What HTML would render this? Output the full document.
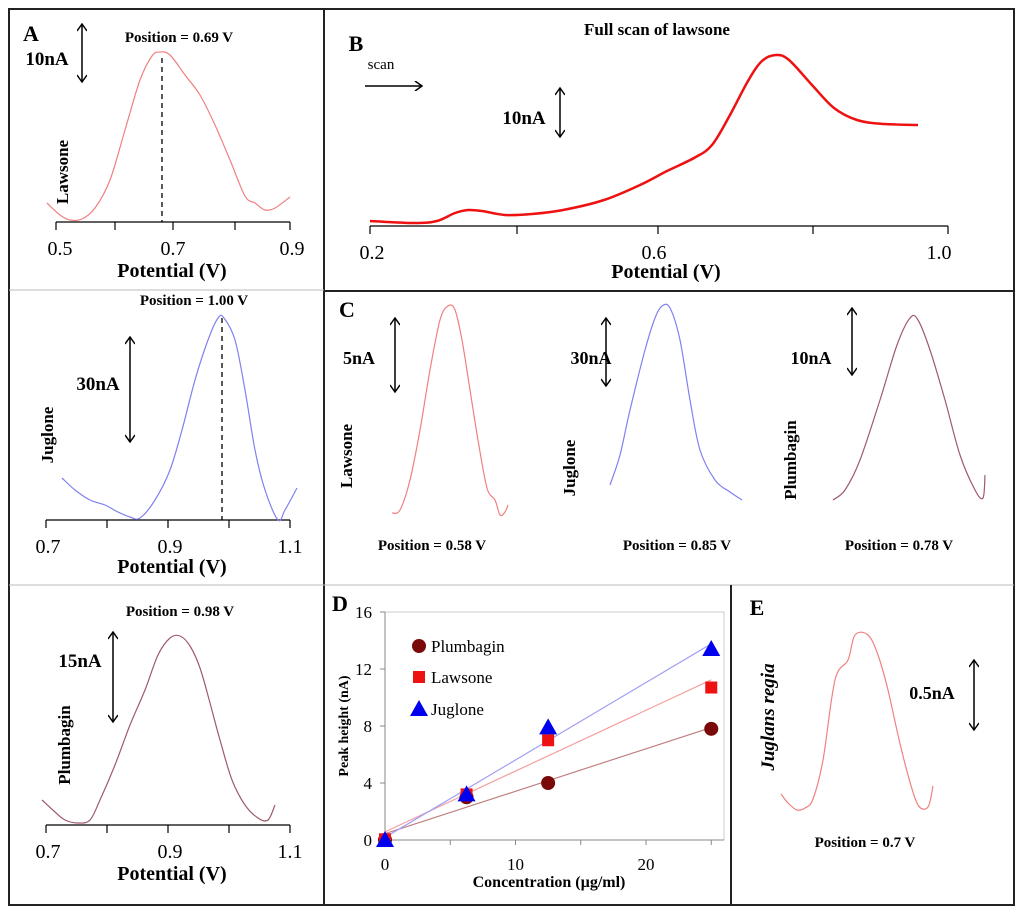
<!DOCTYPE html>
<html><head><meta charset="utf-8"><style>
html,body{margin:0;padding:0;background:#fff}
svg{display:block;font-family:"Liberation Serif",serif}
</style></head><body>
<svg id="fig" width="1024" height="913" viewBox="0 0 1024 913" xmlns="http://www.w3.org/2000/svg">
<defs><marker id="ah" markerWidth="10" markerHeight="10" refX="8" refY="5" orient="auto-start-reverse" markerUnits="userSpaceOnUse"><path d="M1,0 L8,5 L1,10" fill="none" stroke="#000" stroke-width="1.5"/></marker></defs>
<rect x="9" y="9" width="1005" height="896" fill="none" stroke="#222" stroke-width="2"/>
<line x1="324" y1="9" x2="324" y2="905" stroke="#222" stroke-width="2"/>
<line x1="324" y1="291" x2="1014" y2="291" stroke="#222" stroke-width="2"/>
<line x1="9" y1="290" x2="324" y2="290" stroke="#bbb" stroke-width="1"/>
<line x1="9" y1="585" x2="324" y2="585" stroke="#bbb" stroke-width="1"/>
<line x1="324" y1="585" x2="1014" y2="585" stroke="#bbb" stroke-width="1"/>
<line x1="731" y1="585" x2="731" y2="905" stroke="#222" stroke-width="2"/>
<g id="g"></g>
</svg>
<script>
// Panel D data
const conc=[0,6.25,12.5,25];
const plumbagin=[0,3.0,4.0,7.8];
const lawsone=[0.05,3.2,7.0,10.7];
const juglone=[0,3.2,7.9,13.4];
const xTicks=[0,10,20];
const yTicks=[0,4,8,12,16];
// Curve traces (potential-scan shapes, pixel-read)
const curveA=[[47,203],[60,215],[70,220],[82,219],[95,208],[110,180],[125,130],[140,80],[152,56],[160,52],[170,55],[185,75],[200,95],[215,125],[230,160],[245,196],[255,203],[265,210],[275,208],[290,197]];
const curveJ=[[62,478],[75,490],[90,500],[105,505],[118,512],[130,517],[140,518],[155,500],[170,470],[182,430],[195,380],[208,340],[218,318],[224,318],[235,340],[245,390],[255,450],[265,490],[278,520],[285,510],[297,488]];
const curveP=[[42,800],[55,812],[65,820],[78,823],[90,820],[100,800],[115,765],[130,725],[145,690],[158,655],[170,638],[180,636],[190,646],[200,668],[210,703],[220,740],[232,780],[245,805],[258,818],[268,820],[275,805]];
const curveB=[[370,221],[414,223],[437,221],[455,213],[468,210],[482,211],[505,215],[532,214],[563,210],[604,200],[640,185],[667,171],[694,158],[712,145],[730,115],[748,81],[762,61],[776,55],[789,60],[812,85],[834,108],[857,120],[884,124],[918,125]];
const curveCL=[[392,513],[400,510],[410,480],[420,430],[430,370],[440,320],[448,306],[455,310],[462,340],[470,390],[478,440],[487,488],[495,500],[500,515],[505,512],[508,505]];
const curveCJ=[[610,485],[620,455],[630,410],[645,350],[655,318],[662,306],[670,308],[680,340],[690,400],[700,450],[715,480],[730,492],[742,500]];
const curveCP=[[833,500],[845,490],[860,460],[880,400],[897,345],[910,318],[918,320],[930,350],[945,400],[960,455],[975,490],[983,498],[985,475]];
const curveE=[[781,794],[788,803],[797,810],[805,808],[813,799],[823,760],[835,680],[848,660],[855,635],[868,635],[878,655],[888,690],[898,735],[908,775],[918,805],[928,807],[933,786]];

const NS="http://www.w3.org/2000/svg", G=document.getElementById('g');
function mk(t,a,p){const e=document.createElementNS(NS,t);for(const k in a)e.setAttribute(k,a[k]);(p||G).appendChild(e);return e;}
function txt(x,y,s,size,extra){const e=mk('text',Object.assign({x:x,y:y,'font-size':size,'text-anchor':'middle'},extra||{}));e.textContent=s;return e;}
function smooth(p){let d=`M${p[0][0]},${p[0][1]}`;for(let i=0;i<p.length-1;i++){const p0=p[Math.max(i-1,0)],p1=p[i],p2=p[i+1],p3=p[Math.min(i+2,p.length-1)];
const c1=[p1[0]+(p2[0]-p0[0])/6,p1[1]+(p2[1]-p0[1])/6],c2=[p2[0]-(p3[0]-p1[0])/6,p2[1]-(p3[1]-p1[1])/6];
d+=` C${c1[0].toFixed(1)},${c1[1].toFixed(1)} ${c2[0].toFixed(1)},${c2[1].toFixed(1)} ${p2[0]},${p2[1]}`;}return d;}
function poly(pts,col,w,name){const e=mk('path',{d:smooth(pts),fill:'none',stroke:col,'stroke-width':w,'stroke-linejoin':'round'});

return e;}
function varrow(x,y1,y2,name){const e=mk('line',{x1:x,y1:y1,x2:x,y2:y2,stroke:'#000','stroke-width':1.5,'marker-start':'url(#ah)','marker-end':'url(#ah)'});

}
function axis(y,x1,x2,ticks,labels,name){const a=mk('line',{x1:x1,y1:y,x2:x2,y2:y,stroke:'#000','stroke-width':1.2});


ticks.forEach(t=>mk('line',{x1:t,y1:y,x2:t,y2:y+8,stroke:'#000','stroke-width':1.2}));
labels.forEach(l=>{const e=txt(l[0],y+33,l[1],20);

});}
function label(x,y,s,size,extra,name){const e=txt(x,y,s,size,extra);

return e;}
const B={'font-weight':'bold'};

// Panel A
label(31,41,'A',22,B,'panel-a-label');
label(179,42,'Position = 0.69 V',15,B,'panel-a-position');
label(47,65,'10nA',19,B,'panel-a-scale-label');
varrow(82,24,82,'panel-a-scale-arrow');
label(68,172,'Lawsone',17,Object.assign({transform:'rotate(-90 68 172)'},B),'panel-a-ylabel');
axis(222,56,290,[56,115,173,235,290],[[60,'0.5'],[173,'0.7'],[292,'0.9']],'panel-a-x-axis');
mk('line',{x1:162,y1:58,x2:162,y2:222,stroke:'#000','stroke-dasharray':'5,4','stroke-width':1.3});
poly(curveA,'#f08080',1.2,'lawsone-curve-a');
label(172,277,'Potential (V)',20,B,'panel-a-xlabel');

// Juglone left
label(194,305,'Position = 1.00 V',15,B,'juglone-position');
label(98,390,'30nA',19,B,'juglone-scale-label');
varrow(130,337,442,'juglone-scale-arrow');
label(53,435,'Juglone',17,Object.assign({transform:'rotate(-90 53 435)'},B),'juglone-ylabel');
axis(520,46,290,[46,107,168,229,290],[[48,'0.7'],[170,'0.9'],[290,'1.1']],'juglone-x-axis');
mk('line',{x1:222,y1:318,x2:222,y2:520,stroke:'#000','stroke-dasharray':'5,4','stroke-width':1.3});
poly(curveJ,'#8080f0',1.2,'juglone-curve');
label(172,573,'Potential (V)',20,B,'juglone-xlabel');

// Plumbagin left
label(180,616,'Position = 0.98 V',15,B,'plumbagin-position');
label(80,667,'15nA',19,B,'plumbagin-scale-label');
varrow(113,632,722,'plumbagin-scale-arrow');
label(70,745,'Plumbagin',17,Object.assign({transform:'rotate(-90 70 745)'},B),'plumbagin-ylabel');
axis(825,46,290,[46,107,168,229,290],[[48,'0.7'],[170,'0.9'],[290,'1.1']],'plumbagin-x-axis');
poly(curveP,'#a05a6a',1.2,'plumbagin-curve');
label(172,880,'Potential (V)',20,B,'plumbagin-xlabel');

// Panel B
label(356,51,'B',22,B,'panel-b-label');
label(657,35,'Full scan of lawsone',17,B,'panel-b-title');
label(381,69,'scan',15,{},'scan-label');
const sa=mk('line',{x1:365,y1:86,x2:422,y2:86,stroke:'#000','stroke-width':1.5,'marker-end':'url(#ah)'});


label(524,124,'10nA',19,B,'panel-b-scale-label');
varrow(560,88,137,'panel-b-scale-arrow');
axis(226,370,948,[370,517,658,813,948],[[372,'0.2'],[654,'0.6'],[939,'1.0']],'panel-b-x-axis');
poly(curveB,'#ee1111',2.5,'lawsone-full-scan-curve');
label(666,278,'Potential (V)',20,B,'panel-b-xlabel');

// Panel C
label(347,317,'C',22,B,'panel-c-label');
label(359,364,'5nA',18,B,'panel-c-lawsone-scale');
varrow(395,318,392,'panel-c-lawsone-arrow');
label(352,456,'Lawsone',17,Object.assign({transform:'rotate(-90 352 456)'},B),'panel-c-lawsone-label');
poly(curveCL,'#f08080',1.2,'panel-c-lawsone-curve');
label(432,550,'Position = 0.58 V',15,B,'panel-c-lawsone-position');
label(591,364,'30nA',18,B,'panel-c-juglone-scale');
varrow(606,318,386,'panel-c-juglone-arrow');
label(575,468,'Juglone',17,Object.assign({transform:'rotate(-90 575 468)'},B),'panel-c-juglone-label');
poly(curveCJ,'#8080f0',1.2,'panel-c-juglone-curve');
label(677,550,'Position = 0.85 V',15,B,'panel-c-juglone-position');
label(811,364,'10nA',18,B,'panel-c-plumbagin-scale');
varrow(852,308,375,'panel-c-plumbagin-arrow');
label(796,460,'Plumbagin',17,Object.assign({transform:'rotate(-90 796 460)'},B),'panel-c-plumbagin-label');
poly(curveCP,'#a05a6a',1.2,'panel-c-plumbagin-curve');
label(899,550,'Position = 0.78 V',15,B,'panel-c-plumbagin-position');

// Panel D
label(340,611,'D',22,B,'panel-d-label');
const X0=385,XS=(646-385)/20,Y0=840,YS=(840-612)/16;
const sx=v=>X0+v*XS, sy=v=>Y0-v*YS;
const fr=mk('rect',{x:385,y:612,width:339,height:228,fill:'none',stroke:'#ccc','stroke-width':1});


mk('line',{x1:385,y1:612,x2:385,y2:840,stroke:'#888'});
mk('line',{x1:385,y1:840,x2:724,y2:840,stroke:'#888'});
yTicks.forEach(v=>{mk('line',{x1:380,y1:sy(v),x2:385,y2:sy(v),stroke:'#888'});
label(372,sy(v)+6,String(v),17,{'text-anchor':'end'},'y-tick-label');});
[0,5,10,15,20,25].forEach(v=>mk('line',{x1:sx(v),y1:840,x2:sx(v),y2:845,stroke:'#888'}));
xTicks.forEach(v=>label(sx(v),870,String(v),17,{},'x-tick-label'));
label(549,887,'Concentration (µg/ml)',16,B,'panel-d-xlabel');
label(348,726,'Peak height (nA)',14,Object.assign({transform:'rotate(-90 348 726)'},B),'panel-d-ylabel');
function fit(ys){const n=conc.length,mx=conc.reduce((a,b)=>a+b)/n,my=ys.reduce((a,b)=>a+b)/n;let num=0,den=0;conc.forEach((x,i)=>{num+=(x-mx)*(ys[i]-my);den+=(x-mx)*(x-mx);});const m=num/den;return [my-m*mx,m];}
const series=[['plumbagin',plumbagin,'#7a0a0a','#c08080','circle'],['lawsone',lawsone,'#ee1111','#f5a0a0','square'],['juglone',juglone,'#0000ee','#a0a0f5','triangle']];
series.forEach(s=>{const [b,m]=fit(s[1]);const l=mk('line',{x1:sx(0),y1:sy(b),x2:sx(25),y2:sy(b+25*m),stroke:s[3],'stroke-width':1.2});

});
function marker(kind,x,y,col){if(kind==='circle')return mk('circle',{cx:x,cy:y,r:7,fill:col});
if(kind==='square')return mk('rect',{x:x-6,y:y-6,width:12,height:12,fill:col});
return mk('polygon',{points:`${x},${y-9} ${x-9},${y+7} ${x+9},${y+7}`,fill:col});}
series.forEach(s=>{s[1].forEach((v,i)=>{const e=marker(s[4],sx(conc[i]),sy(v),s[2]);

});});
const legY=[646,677,709];const legN=['Plumbagin','Lawsone','Juglone'];
series.forEach((s,i)=>{const e=marker(s[4],419,legY[i],s[2]);


label(431,legY[i]+6,legN[i],17,{'text-anchor':'start'},s[0]+'-legend-label');});

// Panel E
label(757,615,'E',22,B,'panel-e-label');
label(774,717,'Juglans regia',19,{transform:'rotate(-90 774 717)','font-weight':'bold','font-style':'italic'},'panel-e-ylabel');
label(932,699,'0.5nA',18,B,'panel-e-scale-label');
varrow(974,660,730,'panel-e-scale-arrow');
poly(curveE,'#f08080',1.2,'juglans-regia-curve');
label(865,847,'Position = 0.7 V',15,B,'panel-e-position');
</script>
</body></html>
